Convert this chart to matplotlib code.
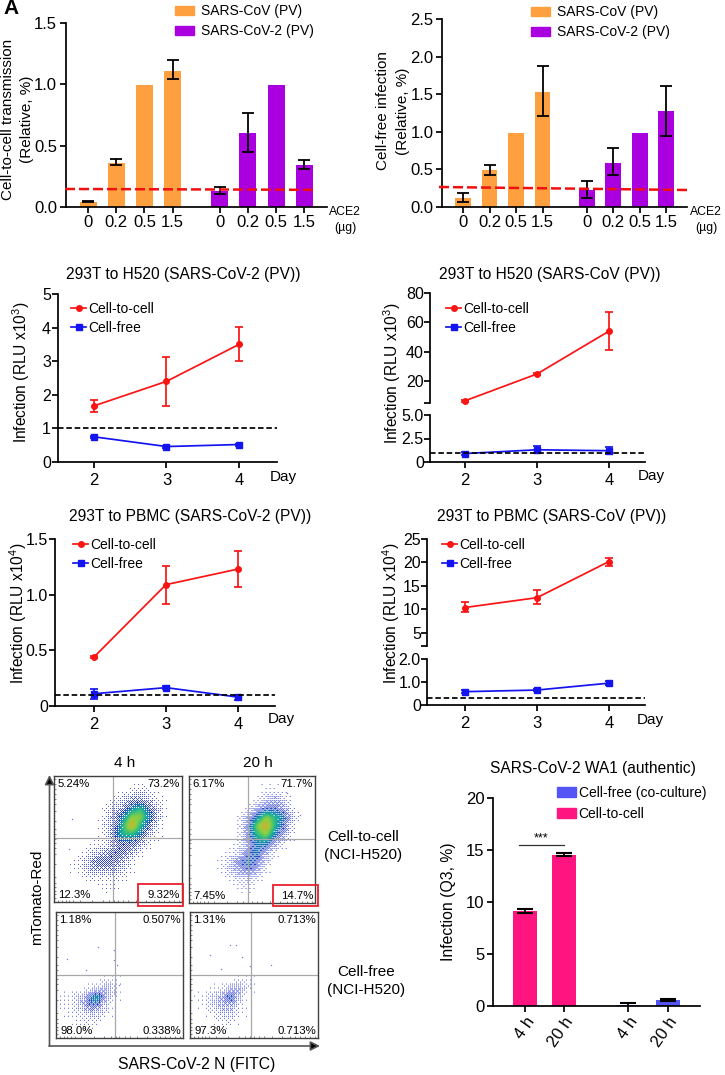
import matplotlib
matplotlib.use("Agg")
import matplotlib.pyplot as plt
from matplotlib.colors import LinearSegmentedColormap
from matplotlib.lines import Line2D
from matplotlib.patches import Patch, Rectangle
import numpy as np

plt.rcParams['font.family'] = ['Liberation Sans', 'DejaVu Sans']
plt.rcParams['mathtext.default'] = 'regular'

W, H = 725, 1075
ORANGE, PURPLE = '#FFA040', '#AA00E0'
PINK, VIOLET = '#FF1480', '#5555F5'

# ---- bar panels ----
ace_labels = ['0', '0.2', '0.5', '1.5', '0', '0.2', '0.5', '1.5']
a_vals = [0.04, 0.355, 0.995, 1.11, 0.13, 0.605, 0.995, 0.34]
a_lo = [0.04, 0.34, 0.995, 1.04, 0.105, 0.45, 0.995, 0.31]
a_hi = [0.05, 0.39, 0.995, 1.195, 0.165, 0.77, 0.995, 0.385]
a_red = [0.147, 0.14]
b_vals = [0.115, 0.49, 0.99, 1.53, 0.22, 0.59, 0.99, 1.27]
b_lo = [0.07, 0.43, 0.99, 1.21, 0.12, 0.43, 0.99, 0.95]
b_hi = [0.18, 0.56, 0.99, 1.87, 0.34, 0.78, 0.99, 1.61]
b_red = [0.266, 0.226]

# ---- line panels ----
days = [2, 3, 4]
c_c2c = [1.67, 2.4, 3.5]; c_c2c_lo = [1.48, 1.67, 3.0]; c_c2c_hi = [1.85, 3.12, 4.02]
c_free = [0.75, 0.46, 0.52]; c_free_lo = [0.72, 0.43, 0.49]; c_free_hi = [0.78, 0.49, 0.55]
d_c2c = [6.5, 24.8, 54]; d_c2c_lo = [6.0, 24, 41]; d_c2c_hi = [7.0, 25.5, 67]
d_free = [0.9, 1.3, 1.2]; d_free_lo = [0.7, 1.0, 0.9]; d_free_hi = [1.1, 1.7, 1.6]
e_c2c = [0.44, 1.09, 1.23]; e_c2c_lo = [0.43, 0.92, 1.07]; e_c2c_hi = [0.45, 1.26, 1.39]
e_free = [0.11, 0.165, 0.08]; e_free_lo = [0.06, 0.15, 0.05]; e_free_hi = [0.15, 0.18, 0.1]
f_c2c = [10.4, 12.5, 20.2]; f_c2c_lo = [9.4, 11.1, 19.3]; f_c2c_hi = [11.5, 14.1, 21.0]
f_free = [0.58, 0.65, 0.95]; f_free_lo = [0.52, 0.59, 0.87]; f_free_hi = [0.64, 0.71, 1.03]

# ---- authentic virus bars ----
g_labels = ['4 h', '20 h', '4 h', '20 h']
g_vals = [9.15, 14.55, 0.05, 0.6]
g_err = [0.2, 0.15, 0.2, 0.1]
g_colors = [PINK, PINK, VIOLET, VIOLET]

# ---- flow cytometry: density levels read by eye per grid cell ----
flow_p1 = [[0,0,0,0,0,0,0,0,0,0,0,0,0,0],
           [0,0,0,0,0,0,0,0,1,2,1,0,0,0],
           [0,0,0,0,0,0,1,2,3,3,2,1,0,0],
           [0,0,0,0,0,1,2,3,5,6,4,2,0,0],
           [0,0,0,0,0,1,3,5,7,7,5,2,0,0],
           [0,0,0,0,0,2,3,6,8,6,4,1,0,0],
           [0,0,0,0,0,1,4,6,6,5,2,1,0,0],
           [0,0,0,0,1,1,3,4,4,3,1,0,0,0],
           [0,0,0,1,2,3,4,4,3,1,0,0,0,0],
           [0,0,1,2,4,4,4,3,1,0,0,0,0,0],
           [0,0,1,2,3,3,3,2,1,0,0,0,0,0],
           [0,0,0,1,1,1,1,1,0,0,0,0,0,0],
           [0,0,0,0,0,1,1,0,0,0,0,0,0,0],
           [0,0,0,0,0,0,0,0,0,0,0,0,0,0]]
flow_p2 = [[0,0,0,0,0,0,0,0,0,0,0,0,0,0],
           [0,0,0,0,0,0,0,0,1,1,0,0,0,0],
           [0,0,0,0,0,0,0,1,2,3,2,0,0,0],
           [0,0,0,0,0,0,1,3,4,4,3,1,0,0],
           [0,0,0,0,0,1,3,5,7,6,5,2,0,0],
           [0,0,0,0,0,1,4,7,8,6,4,1,0,0],
           [0,0,0,0,0,1,4,6,7,5,3,1,0,0],
           [0,0,0,0,0,1,3,5,5,3,1,0,0,0],
           [0,0,0,0,1,2,4,5,3,1,0,0,0,0],
           [0,0,0,1,2,4,5,4,2,0,0,0,0,0],
           [0,0,0,1,2,3,4,3,1,0,0,0,0,0],
           [0,0,0,0,1,1,2,1,0,0,0,0,0,0],
           [0,0,0,0,0,1,1,0,0,0,0,0,0,0],
           [0,0,0,0,0,0,0,0,0,0,0,0,0,0]]
flow_p3 = [[0]*14, [0]*14, [0]*14, [0]*14, [0]*14, [0]*14, [0]*14,
           [0,0,0,0,0,1,1,0,0,0,0,0,0,0],
           [0,0,0,1,2,3,2,0,0,0,0,0,0,0],
           [1,1,2,4,6,3,1,0,0,0,0,0,0,0],
           [1,1,2,4,4,2,0,0,0,0,0,0,0,0],
           [0,1,1,2,2,1,0,0,0,0,0,0,0,0],
           [0,0,1,1,1,0,0,0,0,0,0,0,0,0],
           [0]*14]
flow_p4 = [[0]*14, [0]*14, [0]*14, [0]*14, [0]*14, [0]*14, [0]*14,
           [0,0,0,0,0,1,1,0,0,0,0,0,0,0],
           [0,0,1,1,3,3,1,0,0,0,0,0,0,0],
           [1,1,2,3,5,2,0,0,0,0,0,0,0,0],
           [0,1,2,3,3,1,0,0,0,0,0,0,0,0],
           [0,0,1,2,2,1,0,0,0,0,0,0,0,0],
           [0,0,0,1,1,0,0,0,0,0,0,0,0,0],
           [0]*14]
stray_p1 = [(.14,.66), (.12,.42), (.84,.68)]
stray_p2 = [(.88,.69), (.78,.87)]
stray_p3 = [(.33,.72), (.09,.63), (.46,.62), (.24,.54), (.48,.58), (.5,.42), (.46,.7)]
stray_p4 = [(.31,.74), (.36,.74), (.16,.66), (.41,.64), (.63,.58), (.47,.57), (.48,.42), (.24,.55)]
pct_p1 = ['5.24%', '73.2%', '12.3%', '9.32%']
pct_p2 = ['6.17%', '71.7%', '7.45%', '14.7%']
pct_p3 = ['1.18%', '0.507%', '98.0%', '0.338%']
pct_p4 = ['1.31%', '0.713%', '97.3%', '0.713%']
flow_ticks = [.03,.06,.09,.12,.15,.2,.3,.38,.43,.47,.5,.54,.58,.64,.72,.78,.82,.86,.9,.94,.98]

fig = plt.figure(figsize=(W/100, H/100), dpi=100)

def axpx(l, t, r, b):
    return fig.add_axes([l/W, 1-b/H, (r-l)/W, (b-t)/H])

def ftext(x, y, s, **kw):
    kw.setdefault('ha', 'center'); kw.setdefault('va', 'center')
    return fig.text(x/W, 1-y/H, s, **kw)

def clean(ax, lw=1.25):
    for s in ['top', 'right']:
        ax.spines[s].set_visible(False)
    for s in ['left', 'bottom']:
        ax.spines[s].set_linewidth(lw)
    ax.tick_params(width=lw, length=4, pad=2)
    ax.patch.set_alpha(0)

def err(vals, lo, hi):
    v = np.array(vals)
    return [v-np.array(lo), np.array(hi)-v]

# ---- A / B ----
def bar_panel(box, ylim, yticks, ylabs, vals, lo, hi, red, px_first, px_step, bw, leg_xy, ylab_xy, ylab, ace_x, ls):
    l, t, r, b = box
    ax = axpx(l, t, r, b)
    pos = np.array([0, 1, 2, 3, 4.67, 5.67, 6.67, 7.67])
    ax.bar(pos, vals, width=bw/px_step, color=[ORANGE]*4+[PURPLE]*4, edgecolor='none')
    keep = np.array(hi) > np.array(lo)
    e = err(vals, lo, hi)
    ax.errorbar(pos[keep], np.array(vals)[keep], yerr=[e[0][keep], e[1][keep]], fmt='none', ecolor='black',
                elinewidth=1.3, capsize=4.2, capthick=1.3)
    ax.set_xlim((l-px_first)/px_step, (r-px_first)/px_step)
    ax.set_ylim(*ylim)
    ax.set_yticks(yticks); ax.set_yticklabels(ylabs, fontsize=12)
    ax.set_xticks(pos); ax.set_xticklabels(ace_labels, fontsize=12)
    clean(ax)
    xr = [(leg_xy[2]-px_first)/px_step, (leg_xy[3]-px_first)/px_step]
    ax.plot(xr, red, color='#F01010', ls=(0, (4, 1.6)), lw=1.8, clip_on=False, zorder=5)
    h = [Patch(color=ORANGE, label='SARS-CoV (PV)'), Patch(color=PURPLE, label='SARS-CoV-2 (PV)')]
    fig.legend(handles=h, loc='upper left', bbox_to_anchor=(leg_xy[0]/W, 1-leg_xy[1]/H), frameon=False,
               fontsize=10, borderpad=0, borderaxespad=0, handlelength=1.35, handleheight=0.62,
               handletextpad=0.55, labelspacing=0.45)
    ftext(*ylab_xy, ylab, rotation=90, fontsize=11, linespacing=ls, multialignment='center')
    ftext(ace_x, 220, 'ACE2\n(µg)', fontsize=8.8, linespacing=1.4)

bar_panel((65.5, 23, 327, 207), (0, 1.5), [0, .5, 1, 1.5], ['0.0', '0.5', '1.0', '1.5'],
          a_vals, a_lo, a_hi, a_red, 88, 28.2, 17, (175, 4, 65, 316), (17.5, 119),
          'Cell-to-cell transmission\n(Relative, %)', 345, 1.45)
bar_panel((442, 19, 687, 207), (0, 2.5), [0, .5, 1, 1.5, 2, 2.5], ['0.0', '0.5', '1.0', '1.5', '2.0', '2.5'],
          b_vals, b_lo, b_hi, b_red, 463, 26.5, 15.7, (531, 5, 439, 687), (393, 111),
          'Cell-free infection\n(Relative, %)', 706, 1.55)

# ---- line panels ----
RED, BLUE = '#FA1414', '#1414F0'

def line_series(ax, y, lo, hi, color, marker, ms):
    ax.errorbar(days, y, yerr=err(y, lo, hi), color=color, marker=marker, ms=ms, lw=1.25,
                elinewidth=1.25, capsize=3, capthick=1.25, clip_on=False)

def legend_lines(xy):
    h = [Line2D([], [], color=RED, marker='o', ms=4, lw=1.25, label='Cell-to-cell'),
         Line2D([], [], color=BLUE, marker='s', ms=4.5, lw=1.25, label='Cell-free')]
    fig.legend(handles=h, loc='upper left', bbox_to_anchor=(xy[0]/W, 1-xy[1]/H), frameon=False, fontsize=10,
               borderpad=0, borderaxespad=0, handlelength=1.1, handletextpad=0.12, labelspacing=0.35)

def x_axis(ax, px2, step, l, r):
    ax.set_xlim(2+(l-px2)/step, 2+(r-px2)/step)
    ax.set_xticks(days); ax.set_xticklabels(['2', '3', '4'], fontsize=12)

def single(box, ylim, yticks, ylabs, px2, step, c2c, free, dash, leg_xy):
    l, t, r, b = box
    ax = axpx(l, t, r, b)
    line_series(ax, *c2c, RED, 'o', 4)
    line_series(ax, *free, BLUE, 's', 4.5)
    ax.axhline(dash, color='black', ls=(0, (3.2, 1.6)), lw=1.25, zorder=4)
    x_axis(ax, px2, step, l, r)
    ax.set_ylim(*ylim)
    ax.set_yticks(yticks); ax.set_yticklabels(ylabs, fontsize=11.5)
    clean(ax)
    ax.tick_params(axis='x', pad=4)
    ax.tick_params(axis='y', pad=1)
    legend_lines(leg_xy)

def broken(l, r, ut, ub, lt, lb, uylim, uticks, ulabs, lylim, lticks, llabs, px2, step, c2c, free, dash, leg_xy):
    up = axpx(l, ut, r, ub)
    lo = axpx(l, lt, r, lb)
    line_series(up, *c2c, RED, 'o', 4)
    line_series(lo, *free, BLUE, 's', 4.5)
    lo.axhline(dash, color='black', ls=(0, (3.2, 1.6)), lw=1.25, zorder=4)
    x_axis(up, px2, step, l, r)
    x_axis(lo, px2, step, l, r)
    up.set_ylim(*uylim); lo.set_ylim(*lylim)
    up.set_yticks(uticks); up.set_yticklabels(ulabs, fontsize=11.5)
    lo.set_yticks(lticks); lo.set_yticklabels(llabs, fontsize=11.5)
    clean(up); clean(lo)
    lo.tick_params(axis='x', pad=4)
    up.tick_params(axis='y', pad=0.5)
    lo.tick_params(axis='y', pad=0.5)
    up.spines['bottom'].set_visible(False)
    up.set_xticks([])
    legend_lines(leg_xy)

single((58, 294, 277, 462), (0, 5), [0, 1, 2, 3, 4, 5], ['0', '1', '2', '3', '4', '5'], 94, 72.5,
       (c_c2c, c_c2c_lo, c_c2c_hi), (c_free, c_free_lo, c_free_hi), 1, (71, 302))
single((55, 539, 275, 706), (0, 1.5), [0, .5, 1, 1.5], ['0', '0.5', '1.0', '1.5'], 94, 72,
       (e_c2c, e_c2c_lo, e_c2c_hi), (e_free, e_free_lo, e_free_hi), 0.1, (73, 538))
broken(430, 645, 293, 403, 415, 462, (5, 80), [5, 20, 40, 60, 80], ['', '20', '40', '60', '80'],
       (0, 5), [0, 2.5, 5], ['0', '2.5', '5.0'], 465, 72,
       (d_c2c, d_c2c_lo, d_c2c_hi), (d_free, d_free_lo, d_free_hi), 1, (446, 302))
broken(427, 645, 539, 646, 659, 705, (2.2, 25), [2.2, 5, 10, 15, 20, 25], ['', '5', '10', '15', '20', '25'],
       (0, 2), [0, 1, 2], ['0', '1.0', '2.0'], 465, 72,
       (f_c2c, f_c2c_lo, f_c2c_hi), (f_free, f_free_lo, f_free_hi), 0.3, (442, 538))

for x, y, s in [(183, 274, '293T to H520 (SARS-CoV-2 (PV))'), (550, 274, '293T to H520 (SARS-CoV (PV))'),
                (190, 517, '293T to PBMC (SARS-CoV-2 (PV))'), (552, 517, '293T to PBMC (SARS-CoV (PV))')]:
    ftext(x, y, s, fontsize=11.2)
for x, y in [(283, 477), (651, 476), (281, 719), (650, 720)]:
    ftext(x, y, 'Day', fontsize=11)
ftext(21, 372, 'Infection (RLU x10$^{3}$)', rotation=90, fontsize=11.2)
ftext(392, 373, 'Infection (RLU x10$^{3}$)', rotation=90, fontsize=11.2)
ftext(18, 613, 'Infection (RLU x10$^{4}$)', rotation=90, fontsize=11.2)
ftext(391, 613, 'Infection (RLU x10$^{4}$)', rotation=90, fontsize=11.2)

# ---- flow panels ----
cmap = LinearSegmentedColormap.from_list('flow', [
    (0.0, '#5A66E4'), (0.33, '#4A58DC'), (0.44, '#2C3CC4'),
    (0.55, '#1A78B8'), (0.66, '#20B890'), (0.78, '#8CD040'), (0.89, '#E0A830'), (1.0, '#E07020')])

def bayer(n):
    b = np.array([[0.0]])
    for _ in range(n):
        b = np.block([[4*b, 4*b+2], [4*b+3, 4*b+1]])
    return (b+.5)/b.size

def halftone(dens, wpx, hpx):
    # stipple rendering of the read density grid, so it looks like dots rather than a smooth blob
    d = np.array(dens, float)
    nr, nc = d.shape
    xs = (np.arange(wpx)+.5)/wpx
    ys = (np.arange(hpx)+.5)/hpx
    cx = (np.arange(nc)+.5)/nc
    cy = (np.arange(nr)+.5)/nr
    z = np.array([np.interp(xs, cx, row) for row in d])
    z = np.array([np.interp(ys, cy, col) for col in z.T]).T
    k = np.ones(5)/5
    z = np.array([np.convolve(row, k, mode='same') for row in z])
    z = np.array([np.convolve(col, k, mode='same') for col in z.T]).T
    cover = np.clip(z/6, 0, 1)**1.5
    th = np.tile(bayer(3), (hpx//8+1, wpx//8+1))[:hpx, :wpx]
    rgb = cmap(np.clip(z/9, 0, 1))[..., :3]
    rgb[cover <= th] = 1.0
    return rgb

def flow(box, qx, qy, dens, stray, pct, rect=None):
    l, t, r, b = box
    ax = axpx(l, t, r, b)
    ax.imshow(halftone(dens, int(r-l), int(b-t)), extent=(0, 1, 0, 1), origin='upper', aspect='auto',
              interpolation='bilinear')
    ax.scatter(*zip(*stray), s=1, color='#7078D8', linewidths=0)
    ax.axvline((qx-l)/(r-l), color='#A8A8A8', lw=0.9)
    ax.axhline((b-qy)/(b-t), color='#A8A8A8', lw=0.9)
    ax.set_xlim(0, 1); ax.set_ylim(0, 1)
    ax.set_xticks(flow_ticks); ax.set_yticks(flow_ticks)
    ax.set_xticklabels([]); ax.set_yticklabels([])
    ax.tick_params(length=1.5, width=0.5, color='#555555', direction='in')
    for s in ax.spines.values():
        s.set_linewidth(1.0); s.set_color('#404040')
    fs = 8.2
    ax.text(.025, .975, pct[0], transform=ax.transAxes, va='top', ha='left', fontsize=fs)
    ax.text(.985, .975, pct[1], transform=ax.transAxes, va='top', ha='right', fontsize=fs)
    ax.text(.035, .015, pct[2], transform=ax.transAxes, va='bottom', ha='left', fontsize=fs)
    ax.text(.985, .015, pct[3], transform=ax.transAxes, va='bottom', ha='right', fontsize=fs)
    if rect:
        fig.add_artist(Rectangle((rect[0]/W, 1-rect[3]/H), (rect[2]-rect[0])/W, (rect[3]-rect[1])/H,
                                 transform=fig.transFigure, fill=False, ec='#E8202C', lw=1.3))

flow((54, 776, 182, 902), 113, 838, flow_p1, stray_p1, pct_p1, (138, 884, 183, 906))
flow((189, 776, 315, 903), 248, 839, flow_p2, stray_p2, pct_p2, (273, 885, 318, 906))
flow((56, 912, 183, 1038), 115, 975, flow_p3, stray_p3, pct_p3)
flow((190, 912, 318, 1038), 251, 975, flow_p4, stray_p4, pct_p4)

overlay = fig.add_axes([0, 0, 1, 1]); overlay.set_axis_off()
overlay.set_xlim(0, W); overlay.set_ylim(H, 0)
arrow = dict(arrowstyle='-|>', fc='black', ec='#555555', lw=1.2, mutation_scale=14, shrinkA=0, shrinkB=0)
overlay.annotate('', xy=(49.5, 775), xytext=(49.5, 1046), arrowprops=arrow)
overlay.annotate('', xy=(320, 1046), xytext=(49, 1046), arrowprops=arrow)

ftext(125, 763, '4 h', fontsize=11)
ftext(258, 763, '20 h', fontsize=11)
ftext(37, 897, 'mTomato-Red', rotation=90, fontsize=11)
ftext(197, 1065, 'SARS-CoV-2 N (FITC)', fontsize=11.3)
ftext(363, 846, 'Cell-to-cell\n(NCI-H520)', fontsize=11, linespacing=1.35)
ftext(366, 981, 'Cell-free\n(NCI-H520)', fontsize=11, linespacing=1.3)

# ---- G ----
gx0, gstep = 525, 39.3
gl, gr = 493, 700
axg = axpx(gl, 798, gr, 1006)
gpos = [0, 1, 2.63, 3.63]
axg.bar(gpos, g_vals, width=24/gstep, color=g_colors, edgecolor='none')
axg.errorbar(gpos, g_vals, yerr=g_err, fmt='none', ecolor='black', elinewidth=1.3, capsize=5.5, capthick=1.5)
axg.set_xlim((gl-gx0)/gstep, (gr-gx0)/gstep)
axg.set_ylim(0, 20)
axg.set_yticks([0, 5, 10, 15, 20]); axg.set_yticklabels(['0', '5', '10', '15', '20'], fontsize=12)
axg.set_xticks(gpos)
axg.set_xticklabels(g_labels, fontsize=12, rotation=55, ha='right', rotation_mode='anchor')
clean(axg)
axg.plot([-0.16, 1.0], [15.5, 15.5], color='#333333', lw=0.9)
axg.text(0.42, 16.1, '***', ha='center', va='center', fontsize=9)
h = [Patch(color=VIOLET, label='Cell-free (co-culture)'), Patch(color=PINK, label='Cell-to-cell')]
fig.legend(handles=h, loc='upper left', bbox_to_anchor=(557/W, 1-786/H), frameon=False, fontsize=10,
           borderpad=0, borderaxespad=0, handlelength=1.35, handleheight=0.72, handletextpad=0.2, labelspacing=0.5)
ftext(593, 768, 'SARS-CoV-2 WA1 (authentic)', fontsize=11.2)
ftext(448, 902, 'Infection (Q3, %)', rotation=90, fontsize=11.3)

ftext(11, 8, 'A', fontsize=15, fontweight='bold')

fig.savefig('out.png', dpi=100)
